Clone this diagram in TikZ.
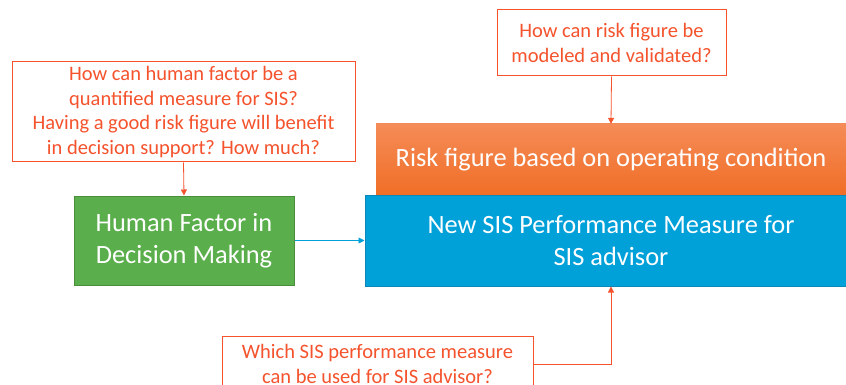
\documentclass[tikz,border=0pt]{standalone}
\usepackage{fontspec}
\setmainfont{Carlito}
\usetikzlibrary{arrows.meta}
\definecolor{qred}{HTML}{F4532D}
\definecolor{gfill}{HTML}{5AAE4B}
\definecolor{gline}{HTML}{4A8E3C}
\definecolor{bfill}{HTML}{00A0D9}
\definecolor{bline}{HTML}{0E86B8}
\definecolor{otop}{HTML}{F58B57}
\definecolor{obot}{HTML}{F06E26}
\tikzset{
  qbox/.style={draw=qred, line width=1pt, fill=white, text=qred, align=center, font=\fontsize{20.5}{24.5}\selectfont, inner sep=0pt},
  mainbox/.style={text=white, align=center, inner sep=0pt, font=\fontsize{26.4}{32}\selectfont},
  qarrow/.style={draw=qred, line width=0.8pt, -{Triangle[length=6pt,width=6pt]}},
}
\begin{document}
\begin{tikzpicture}[x=1pt,y=-1pt]
\useasboundingbox (0,0) rectangle (846,385);
\clip (0,0) rectangle (846,385);
\node[qbox, minimum width=229pt, minimum height=66pt] (qtop) at (611.5,43) {How can risk figure be\\modeled and validated?};
\node[qbox, minimum width=343pt, minimum height=100pt] (qleft) at (183.5,112) {How can human factor be a\\quantified measure for SIS?\\Having a good risk figure will benefit\\in decision support? How much?};
\node[mainbox, draw=gline, fill=gfill, line width=1pt, minimum width=220pt, minimum height=89pt] (green) at (184,240.5) {Human Factor in\\Decision Making};
\node[mainbox, top color=otop, bottom color=obot, minimum width=470pt, minimum height=72pt] (orange) at (611,160) {Risk figure based on operating condition};
\node[mainbox, draw=bline, fill=bfill, line width=1pt, minimum width=492pt, minimum height=91pt] (blue) at (611,240.5) {New SIS Performance Measure for\\SIS advisor};
\node[qbox, minimum width=311pt, minimum height=56pt] (qbot) at (377.5,364) {Which SIS performance measure\\can be used for SIS advisor?};
\draw[qarrow] (qleft.south) -- (green.north);
\draw[qarrow] (qtop.south) -- (orange.north);
\draw[draw=bfill, line width=0.8pt, -{Triangle[length=6pt,width=6pt]}] (green.east) -- (blue.west);
\draw[qarrow] (qbot.east) -| (blue.south);
\end{tikzpicture}
\end{document}
